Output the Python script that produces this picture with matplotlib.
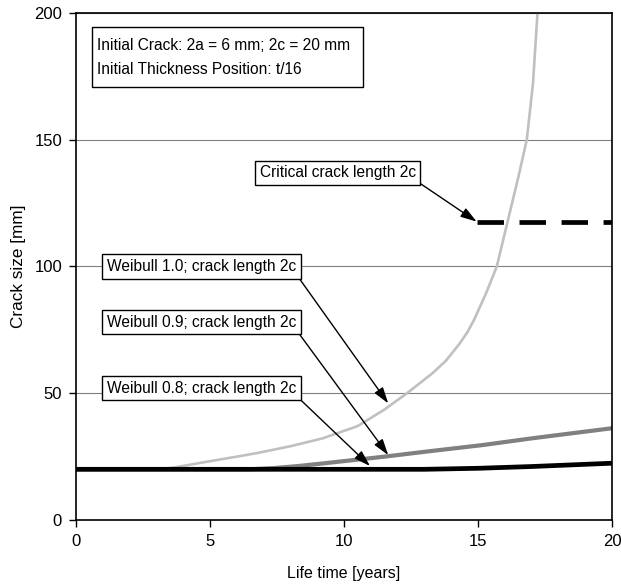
import matplotlib
matplotlib.use('Agg')
import matplotlib.pyplot as plt
from matplotlib.patches import Rectangle

plt.rcParams['font.family'] = ['Liberation Sans', 'DejaVu Sans']

# Weibull 1.0 (light grey)
yrs_10 = [0, 3.0, 3.6, 4.25, 5, 6, 6.75, 8, 9.2, 10.5, 11.5, 12.35, 13.3, 13.8, 14.3,
          14.6, 14.85, 15.3, 15.7, 16.1, 16.5, 16.82, 17.05, 17.22]
crack_10 = [20, 20, 20.6, 21.8, 23.2, 25, 26.4, 29.1, 32.2, 37, 43.5, 50, 57.9, 62.8, 69.4,
            74.0, 78.9, 89.4, 100, 117.5, 135, 150, 172, 200]

# Weibull 0.9 (mid grey)
yrs_09 = [0, 6.5, 7.4, 8.3, 9.2, 10.4, 11.6, 13, 15.2, 17, 20]
crack_09 = [20, 20, 20.5, 21.3, 22.3, 23.7, 25.1, 26.9, 29.6, 32.2, 36.2]

# Weibull 0.8 (black)
yrs_08 = [0, 13, 15, 17, 20]
crack_08 = [20, 20, 20.4, 21.1, 22.4]

# critical crack length
yrs_crit = [14.95, 20]
crack_crit = [117.7, 117.7]

fig = plt.figure(figsize=(6.21, 5.85), dpi=100)
ax = fig.add_axes([0.1224, 0.1111, 0.8631, 0.8667])

ax.grid(axis='y', color='#808080', linewidth=0.8)
ax.set_axisbelow(True)

ax.plot(yrs_10, crack_10, color='#c0c0c0', linewidth=1.9)
ax.plot(yrs_09, crack_09, color='#808080', linewidth=3.0)
ax.plot(yrs_08, crack_08, color='black', linewidth=3.4)
ax.plot(yrs_crit, crack_crit, color='black', linewidth=3.4, dashes=(5.6, 3.3))

ax.set_xlim(0, 20)
ax.set_ylim(0, 200)
ax.set_xticks([0, 5, 10, 15, 20])
ax.set_yticks([0, 50, 100, 150, 200])
ax.tick_params(direction='out', length=5, width=1, labelsize=12, pad=5)
for s in ax.spines.values():
    s.set_linewidth(1.2)

ax.set_xlabel('Life time [years]', fontsize=11.5, labelpad=12)
ax.set_ylabel('Crack size [mm]', fontsize=12.3, labelpad=6)

# info box
ax.add_patch(Rectangle((0.0293, 0.8546), 0.506, 0.1184, transform=ax.transAxes,
                       facecolor='white', edgecolor='black', linewidth=1, zorder=4))
ax.text(0.0386, 0.9122, 'Initial Crack: 2a = 6 mm; 2c = 20 mm\nInitial Thickness Position: t/16',
        transform=ax.transAxes, fontsize=11.2, va='center', ha='left', linespacing=1.8,
        zorder=5)

box = dict(boxstyle='square,pad=0.3', facecolor='white', edgecolor='black', linewidth=1)
arrow = dict(arrowstyle='-|>,head_length=0.7,head_width=0.22', color='black', linewidth=1,
             relpos=(1, 0), mutation_scale=14, shrinkA=0, shrinkB=0)
notes = [
    ('Critical crack length 2c', (14.95, 117.7), (6.85, 136.9)),
    ('Weibull 1.0; crack length 2c', (11.65, 46.0), (1.15, 100.0)),
    ('Weibull 0.9; crack length 2c', (11.65, 25.6), (1.15, 78.0)),
    ('Weibull 0.8; crack length 2c', (10.97, 21.3), (1.15, 52.0)),
]
for label, tip, pos in notes:
    ax.annotate(label, xy=tip, xytext=pos, fontsize=11.2,
                va='center', ha='left', bbox=box, arrowprops=arrow)

fig.savefig('out.png', dpi=100)
